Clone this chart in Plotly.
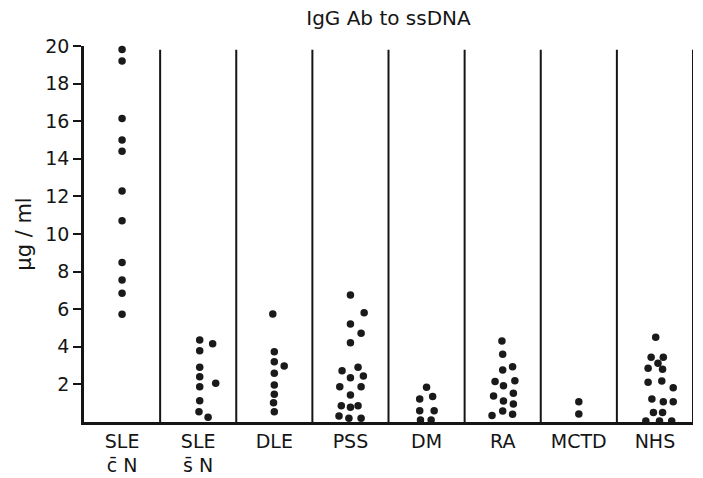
import plotly.graph_objects as go

title = "IgG Ab to ssDNA"
y_title = "μg / ml"
categories = ["SLE<br>c\u0304 N", "SLE<br>s\u0304 N", "DLE", "PSS", "DM", "RA", "MCTD", "NHS"]
y_ticks = [2, 4, 6, 8, 10, 12, 14, 16, 18, 20]

sle_cn = [19.82, 19.2, 16.15, 15.0, 14.4, 12.29, 10.71, 8.49, 7.55, 6.85, 5.73]
sle_cn_jit = [0, 0, 0, 0, 0, 0, 0, 0, 0, 0, 0]

sle_sn = [4.36, 4.16, 3.79, 2.91, 2.41, 2.06, 1.88, 1.13, 0.55, 0.25]
sle_sn_jit = [0.02, 0.19, 0.02, 0.02, 0.02, 0.23, 0.02, 0.02, 0.01, 0.13]

dle = [5.74, 3.74, 3.21, 2.98, 2.59, 1.97, 1.47, 1.03, 0.55]
dle_jit = [-0.02, 0, 0, 0.13, 0, 0, 0, -0.01, 0]

pss = [6.76, 5.81, 5.21, 4.72, 4.22, 2.73, 2.91, 2.36, 2.45, 1.88, 1.88, 1.44,
       0.87, 0.78, 0.87, 0.32, 0.20, 0.20]
pss_jit = [0, 0.18, 0, 0.14, 0, -0.11, 0.10, 0, 0.17, -0.14, 0.14, 0,
           -0.12, 0, 0.10, -0.15, -0.02, 0.14]

dm = [1.85, 1.22, 1.35, 0.6, 0.6, 0.1, 0.1]
dm_jit = [0, -0.09, 0.08, -0.09, 0.10, -0.08, 0.06]

ra = [4.31, 3.6, 2.77, 2.94, 2.15, 1.93, 2.2, 1.38, 1.53, 1.12, 0.96, 0.34, 0.58, 0.41]
ra_jit = [-0.01, 0, 0, 0.13, -0.10, 0.01, 0.16, -0.12, 0.14, 0.01, 0.14, -0.14, 0, 0.13]

mctd = [1.08, 0.43]
mctd_jit = [0, 0]

nhs = [4.51, 3.44, 3.44, 3.12, 2.86, 2.80, 2.11, 2.18, 1.82, 1.22, 1.08, 1.08,
       0.51, 0.51, 0.05, 0.05, 0.05]
nhs_jit = [0.01, -0.05, 0.11, 0.04, -0.09, 0.10, -0.09, 0.09, 0.24, -0.04, 0.11, 0.24,
           -0.02, 0.10, -0.12, 0.06, 0.22]

groups = [(sle_cn, sle_cn_jit), (sle_sn, sle_sn_jit), (dle, dle_jit), (pss, pss_jit),
          (dm, dm_jit), (ra, ra_jit), (mctd, mctd_jit), (nhs, nhs_jit)]

FONT = "DejaVu Sans"
INK = "#151515"
fig = go.Figure()

# separators between groups
sep_x, sep_y = [], []
for i in range(len(categories)):
    sep_x += [i + 0.5, i + 0.5, None]
    sep_y += [0, 19.8, None]
fig.add_trace(go.Scatter(x=sep_x, y=sep_y, mode="lines",
                         line=dict(color=INK, width=2), hoverinfo="skip",
                         showlegend=False, cliponaxis=False))

for i, (vals, jit) in enumerate(groups):
    fig.add_trace(go.Scatter(
        x=[i + j for j in jit], y=vals, mode="markers",
        marker=dict(size=7.5, color="#1a1a1a"),
        showlegend=False, cliponaxis=False))

fig.update_layout(
    width=703, height=478,
    margin=dict(l=84, r=10, t=46, b=56),
    paper_bgcolor="white", plot_bgcolor="white",
    title=dict(text=title, x=0.5, xref="paper", xanchor="center",
               y=1 - 18 / 478, yanchor="middle",
               font=dict(family=FONT, size=20, color=INK)),
    font=dict(family=FONT, color=INK),
)
fig.update_xaxes(range=[-0.5, 7.5], tickvals=list(range(len(categories))),
                 ticktext=categories, showgrid=False, zeroline=False,
                 showline=True, linecolor=INK, linewidth=2.5, automargin=False,
                 ticks="", ticklen=0,
                 tickfont=dict(family=FONT, size=19, color=INK))
fig.update_yaxes(range=[0, 20], tickvals=y_ticks, showgrid=False, zeroline=False,
                 showline=True, linecolor=INK, linewidth=2.5, automargin=False,
                 ticks="outside", ticklen=8, tickwidth=2, tickcolor=INK,
                 tickfont=dict(family=FONT, size=19, color=INK),
                 title=dict(text=y_title, font=dict(family=FONT, size=21, color=INK),
                            standoff=8))

fig.write_html("out.html")
